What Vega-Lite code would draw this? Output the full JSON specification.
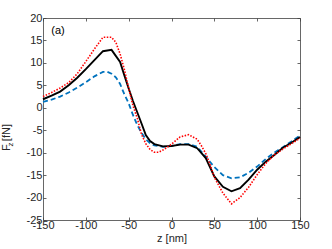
{
  "$schema": "https://vega.github.io/schema/vega-lite/v6.json",
  "width": 257,
  "height": 202,
  "autosize": {"type": "none"},
  "padding": {"left": 43, "top": 18, "right": 32, "bottom": 29},
  "config": {
    "view": {"stroke": null},
    "font": "Liberation Sans",
    "axis": {
      "grid": false,
      "domainColor": "#404040",
      "tickColor": "#404040",
      "labelColor": "#262626",
      "titleColor": "#262626",
      "labelFont": "Liberation Sans",
      "titleFont": "Liberation Sans",
      "labelFontSize": 11,
      "titleFontSize": 11,
      "titleFontWeight": "normal",
      "tickSize": -3,
      "domainWidth": 0.8,
      "tickWidth": 0.8,
      "labelFlush": false,
      "labelOverlap": false
    }
  },
  "datasets": {
    "curves": [
      {"series": "blue", "z": -150, "F": 1.3},
      {"series": "blue", "z": -140, "F": 1.8},
      {"series": "blue", "z": -130, "F": 2.5},
      {"series": "blue", "z": -120, "F": 3.4},
      {"series": "blue", "z": -110, "F": 4.5},
      {"series": "blue", "z": -100, "F": 5.7},
      {"series": "blue", "z": -90, "F": 7.0},
      {"series": "blue", "z": -80, "F": 8.0},
      {"series": "blue", "z": -75, "F": 8.0},
      {"series": "blue", "z": -70, "F": 7.6},
      {"series": "blue", "z": -65, "F": 6.8},
      {"series": "blue", "z": -60, "F": 5.3},
      {"series": "blue", "z": -55, "F": 3.0},
      {"series": "blue", "z": -50, "F": 1.0},
      {"series": "blue", "z": -45, "F": -1.6},
      {"series": "blue", "z": -40, "F": -3.8},
      {"series": "blue", "z": -35, "F": -5.6},
      {"series": "blue", "z": -30, "F": -7.0},
      {"series": "blue", "z": -25, "F": -7.9},
      {"series": "blue", "z": -20, "F": -8.4},
      {"series": "blue", "z": -10, "F": -8.7},
      {"series": "blue", "z": 0, "F": -8.5},
      {"series": "blue", "z": 10, "F": -8.1},
      {"series": "blue", "z": 20, "F": -8.1},
      {"series": "blue", "z": 30, "F": -8.7},
      {"series": "blue", "z": 40, "F": -10.9},
      {"series": "blue", "z": 50, "F": -13.2},
      {"series": "blue", "z": 60, "F": -15.0},
      {"series": "blue", "z": 70, "F": -15.7},
      {"series": "blue", "z": 80, "F": -15.5},
      {"series": "blue", "z": 90, "F": -14.5},
      {"series": "blue", "z": 100, "F": -13.1},
      {"series": "blue", "z": 110, "F": -11.4},
      {"series": "blue", "z": 120, "F": -10.0},
      {"series": "blue", "z": 130, "F": -8.8},
      {"series": "blue", "z": 140, "F": -7.5},
      {"series": "blue", "z": 150, "F": -6.2},

      {"series": "black", "z": -150, "F": 1.9},
      {"series": "black", "z": -140, "F": 2.7},
      {"series": "black", "z": -130, "F": 3.6},
      {"series": "black", "z": -120, "F": 5.0},
      {"series": "black", "z": -110, "F": 6.7},
      {"series": "black", "z": -100, "F": 8.6},
      {"series": "black", "z": -90, "F": 10.6},
      {"series": "black", "z": -80, "F": 12.6},
      {"series": "black", "z": -70, "F": 12.9},
      {"series": "black", "z": -60, "F": 10.2},
      {"series": "black", "z": -55, "F": 7.2},
      {"series": "black", "z": -50, "F": 4.3},
      {"series": "black", "z": -45, "F": 1.5},
      {"series": "black", "z": -40, "F": -1.0},
      {"series": "black", "z": -35, "F": -3.5},
      {"series": "black", "z": -30, "F": -6.1},
      {"series": "black", "z": -25, "F": -7.4},
      {"series": "black", "z": -20, "F": -8.1},
      {"series": "black", "z": -10, "F": -8.6},
      {"series": "black", "z": 0, "F": -8.5},
      {"series": "black", "z": 10, "F": -8.2},
      {"series": "black", "z": 20, "F": -8.2},
      {"series": "black", "z": 30, "F": -9.0},
      {"series": "black", "z": 40, "F": -11.2},
      {"series": "black", "z": 50, "F": -15.3},
      {"series": "black", "z": 60, "F": -17.6},
      {"series": "black", "z": 70, "F": -18.6},
      {"series": "black", "z": 80, "F": -17.9},
      {"series": "black", "z": 90, "F": -16.0},
      {"series": "black", "z": 100, "F": -13.8},
      {"series": "black", "z": 110, "F": -12.0},
      {"series": "black", "z": 120, "F": -10.5},
      {"series": "black", "z": 130, "F": -8.9},
      {"series": "black", "z": 140, "F": -7.8},
      {"series": "black", "z": 150, "F": -6.5},

      {"series": "red", "z": -150, "F": 2.5},
      {"series": "red", "z": -140, "F": 3.4},
      {"series": "red", "z": -130, "F": 4.4},
      {"series": "red", "z": -120, "F": 5.6},
      {"series": "red", "z": -110, "F": 7.6},
      {"series": "red", "z": -100, "F": 10.3},
      {"series": "red", "z": -90, "F": 13.1},
      {"series": "red", "z": -80, "F": 15.7},
      {"series": "red", "z": -70, "F": 15.7},
      {"series": "red", "z": -65, "F": 14.6},
      {"series": "red", "z": -60, "F": 12.0},
      {"series": "red", "z": -55, "F": 8.5},
      {"series": "red", "z": -50, "F": 4.4},
      {"series": "red", "z": -45, "F": 0.5},
      {"series": "red", "z": -40, "F": -2.3},
      {"series": "red", "z": -35, "F": -5.9},
      {"series": "red", "z": -30, "F": -8.0},
      {"series": "red", "z": -25, "F": -9.3},
      {"series": "red", "z": -20, "F": -9.9},
      {"series": "red", "z": -15, "F": -9.9},
      {"series": "red", "z": -10, "F": -9.4},
      {"series": "red", "z": -5, "F": -8.8},
      {"series": "red", "z": 0, "F": -8.1},
      {"series": "red", "z": 10, "F": -6.5},
      {"series": "red", "z": 20, "F": -6.0},
      {"series": "red", "z": 30, "F": -7.0},
      {"series": "red", "z": 35, "F": -8.5},
      {"series": "red", "z": 40, "F": -10.2},
      {"series": "red", "z": 45, "F": -12.6},
      {"series": "red", "z": 50, "F": -15.5},
      {"series": "red", "z": 60, "F": -19.0},
      {"series": "red", "z": 70, "F": -21.4},
      {"series": "red", "z": 80, "F": -20.0},
      {"series": "red", "z": 90, "F": -17.7},
      {"series": "red", "z": 100, "F": -14.9},
      {"series": "red", "z": 110, "F": -12.4},
      {"series": "red", "z": 120, "F": -10.5},
      {"series": "red", "z": 130, "F": -9.2},
      {"series": "red", "z": 140, "F": -8.0},
      {"series": "red", "z": 150, "F": -6.8}
    ],
    "annot": [{"z": -132.5, "F": 17.2, "label": "(a)"}]
  },
  "layer": [
    {
      "data": {"name": "curves"},
      "encoding": {
        "x": {
          "field": "z", "type": "quantitative",
          "scale": {"domain": [-150, 150], "nice": false},
          "axis": {
            "orient": "bottom",
            "values": [-150, -100, -50, 0, 50, 100, 150],
            "labelExpr": "'' + datum.value",
            "labelPadding": 2,
            "title": "z [nm]",
            "titlePadding": 2
          }
        },
        "y": {
          "field": "F", "type": "quantitative",
          "scale": {"domain": [-25, 20], "nice": false, "zero": false},
          "axis": {
            "orient": "left",
            "values": [-25, -20, -15, -10, -5, 0, 5, 10, 15, 20],
            "labelExpr": "'' + datum.value",
            "labelPadding": 4,
            "title": "F   [fN]",
            "titleAngle": -90,
            "titleX": -37,
            "titleY": 119,
            "titleAlign": "center",
            "titleBaseline": "middle"
          }
        }
      },
      "layer": [
        {
          "transform": [{"filter": "datum.series === 'blue'"}],
          "mark": {"type": "line", "color": "#0072BD", "strokeWidth": 1.8, "strokeDash": [5, 3]}
        },
        {
          "transform": [{"filter": "datum.series === 'black'"}],
          "mark": {"type": "line", "color": "#000000", "strokeWidth": 1.9}
        },
        {
          "transform": [{"filter": "datum.series === 'red'"}],
          "mark": {"type": "line", "color": "#FF0000", "strokeWidth": 1.6, "strokeDash": [1.5, 1.5]}
        }
      ]
    },
    {
      "data": {"name": "annot"},
      "mark": {"type": "text", "fontSize": 11, "font": "Liberation Sans", "color": "#000000", "align": "center", "baseline": "middle"},
      "encoding": {
        "x": {
          "field": "z", "type": "quantitative",
          "scale": {"domain": [-150, 150], "nice": false},
          "axis": {
            "orient": "top",
            "values": [-150, -100, -50, 0, 50, 100, 150],
            "labels": false,
            "title": null
          }
        },
        "y": {
          "field": "F", "type": "quantitative",
          "scale": {"domain": [-25, 20], "nice": false, "zero": false},
          "axis": {
            "orient": "right",
            "values": [-25, -20, -15, -10, -5, 0, 5, 10, 15, 20],
            "labels": false,
            "title": "z",
            "titleFontSize": 8,
            "titleAngle": -90,
            "titleX": -290,
            "titleY": 126,
            "titleAlign": "center",
            "titleBaseline": "middle"
          }
        },
        "text": {"field": "label"}
      }
    }
  ],
  "resolve": {"axis": {"x": "independent", "y": "independent"}}
}
